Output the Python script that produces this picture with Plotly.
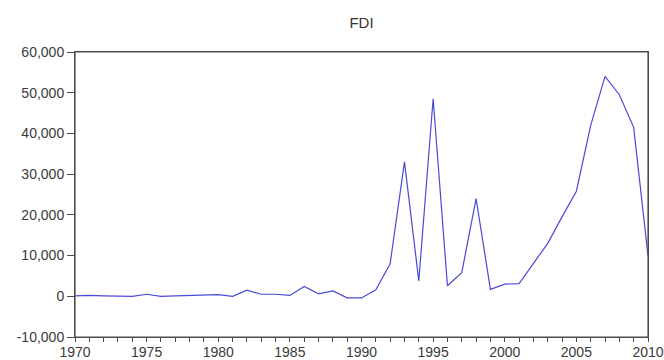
import plotly.graph_objects as go

years = list(range(1970, 2011))
fdi = [100, 200, 100, 100, 0, 500, 0, 100, 200, 200,
       400, 0, 1500, 500, 500, 200, 2400, 600, 1300, -400,
       -400, 1600, 8000, 33000, 3800, 48500, 2600, 5800, 24000, 1700,
       3000, 3100, 8200, 13000, 19500, 25800, 42000, 54000, 49500, 41500,
       10000]

y_tickvals = [-10000, 0, 10000, 20000, 30000, 40000, 50000, 60000]
y_ticktext = ["-10,000", "0", "10,000", "20,000", "30,000", "40,000", "50,000", "60,000"]
x_tickvals = [1970, 1975, 1980, 1985, 1990, 1995, 2000, 2005, 2010]

fig = go.Figure()
fig.add_trace(go.Scatter(x=years, y=fdi, mode="lines",
                         line=dict(color="#4a4ad8", width=1.2)))

axis_col = "#4d4d4d"
fig.update_layout(
    template="none",
    width=664, height=360,
    margin=dict(l=75, r=16, t=52, b=23, pad=0),
    paper_bgcolor="white", plot_bgcolor="white",
    showlegend=False,
    font=dict(family="Liberation Sans, Arial", size=14, color="#3a3a3a"),
    title=dict(text="FDI", x=(75 + 648) / 2 / 664, xanchor="center",
               y=1 - 23 / 360, yanchor="middle",
               font=dict(size=15, color="#333333")),
    shapes=[dict(type="rect", xref="paper", yref="paper", x0=0, y0=0, x1=1, y1=1,
                 line=dict(color=axis_col, width=1.2), fillcolor="rgba(0,0,0,0)", layer="above")],
)
fig.update_xaxes(
    range=[1970, 2010], tickvals=x_tickvals, ticktext=[str(v) for v in x_tickvals],
    ticks="outside", ticklen=4, tickcolor=axis_col, tickwidth=1,
    minor=dict(dtick=1, tick0=1970, ticks="outside", ticklen=4, tickcolor=axis_col),
    ticklabelstandoff=-2,
    showgrid=False, zeroline=False, automargin=False,
    showline=True, linecolor=axis_col, linewidth=1, mirror=True,
)
fig.update_yaxes(
    range=[-10000, 60000], tickvals=y_tickvals, ticktext=y_ticktext,
    ticks="outside", ticklen=7, tickcolor=axis_col, tickwidth=1,
    showgrid=False, zeroline=False, automargin=False,
    showline=True, linecolor=axis_col, linewidth=1, mirror=True,
)

fig.write_html(
    "out.html",
    config={"displayModeBar": False},
    post_script="document.body.style.margin='0';document.body.style.overflow='hidden';",
)
